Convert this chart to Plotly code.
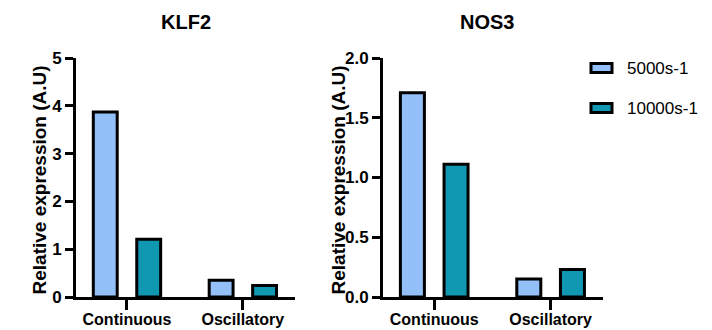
import plotly.graph_objects as go

categories = ["Continuous", "Oscillatory"]
series_names = ["5000s-1", "10000s-1"]
series_colors = ["#93C0F9", "#1097B1"]

klf2_5000 = [3.87, 0.35]
klf2_10000 = [1.21, 0.24]
nos3_5000 = [1.71, 0.15]
nos3_10000 = [1.11, 0.23]

klf2_ticks = [0, 1, 2, 3, 4, 5]
nos3_ticks = [0.0, 0.5, 1.0, 1.5, 2.0]
nos3_ticklabels = ["0.0", "0.5", "1.0", "1.5", "2.0"]

FONT = "Arial, Liberation Sans, sans-serif"
W, H = 712, 330

fig = go.Figure()
for vals, name, color in [(klf2_5000, series_names[0], series_colors[0]),
                          (klf2_10000, series_names[1], series_colors[1])]:
    fig.add_trace(go.Bar(x=categories, y=vals, name=name, marker_color=color,
                         marker_line=dict(color="black", width=3),
                         xaxis="x", yaxis="y", showlegend=False))
for vals, name, color in [(nos3_5000, series_names[0], series_colors[0]),
                          (nos3_10000, series_names[1], series_colors[1])]:
    fig.add_trace(go.Bar(x=categories, y=vals, name=name, marker_color=color,
                         marker_line=dict(color="black", width=3),
                         xaxis="x2", yaxis="y2", showlegend=False))

ydom = [1 - 297 / H, 1 - 58 / H]
xdom1 = [76 / W, 295 / W]
xdom2 = [383 / W, 603 / W]

xcommon = dict(range=[-0.44, 1.45], showline=True, linewidth=3, linecolor="black",
               ticks="outside", ticklen=10, tickwidth=3, tickcolor="black",
               ticklabelstandoff=-4,
               showgrid=False, zeroline=False, fixedrange=True, automargin=False,
               tickfont=dict(family=FONT, size=16, color="black", weight="bold"))
ycommon = dict(showline=True, linewidth=3, linecolor="black",
               ticks="outside", ticklen=8, tickwidth=3, tickcolor="black",
               showgrid=False, zeroline=False, domain=ydom, automargin=False,
               fixedrange=True,
               tickfont=dict(family=FONT, size=17, color="black", weight="bold"))

fig.update_layout(
    width=W, height=H, autosize=False,
    margin=dict(l=0, r=0, t=0, b=0, pad=0, autoexpand=False),
    paper_bgcolor="white", plot_bgcolor="white",
    barmode="group", bargap=0.25, bargroupgap=0.45,
    showlegend=False,
    xaxis=dict(domain=xdom1, anchor="y", **xcommon),
    xaxis2=dict(domain=xdom2, anchor="y2", **xcommon),
    yaxis=dict(range=[0, 5], tickvals=klf2_ticks, anchor="x", **ycommon),
    yaxis2=dict(range=[0, 2], tickvals=nos3_ticks, ticktext=nos3_ticklabels,
                anchor="x2", **ycommon),
)

annots = []
# panel titles
annots.append(dict(text="<b>KLF2</b>", x=(xdom1[0] + xdom1[1]) / 2, y=1 - 22 / H,
                   xref="paper", yref="paper", showarrow=False,
                   xanchor="center", yanchor="middle",
                   font=dict(family=FONT, size=20, color="black")))
annots.append(dict(text="<b>NOS3</b>", x=487 / W, y=1 - 22 / H,
                   xref="paper", yref="paper", showarrow=False,
                   xanchor="center", yanchor="middle",
                   font=dict(family=FONT, size=20, color="black")))
# y axis titles
for xc in [38.5 / W, 337.5 / W]:
    annots.append(dict(text="<b>Relative expression (A.U)</b>", x=xc, y=1 - 180 / H,
                       xref="paper", yref="paper", showarrow=False, textangle=-90,
                       xanchor="center", yanchor="middle",
                       font=dict(family=FONT, size=19, color="black")))

# legend (manual, to get wide rectangle swatches)
shapes = []
leg_y = [68, 108]
for i, (name, color) in enumerate(zip(series_names, series_colors)):
    yc = leg_y[i]
    shapes.append(dict(type="rect", xref="paper", yref="paper",
                       x0=591 / W, x1=612 / W, y0=1 - (yc + 4.5) / H, y1=1 - (yc - 4.5) / H,
                       fillcolor=color, line=dict(color="black", width=3)))
    annots.append(dict(text=name, x=625 / W, y=1 - yc / H, xref="paper", yref="paper",
                       xanchor="left", yanchor="middle", showarrow=False,
                       font=dict(family=FONT, size=17, color="black")))

fig.update_layout(annotations=annots, shapes=shapes)
fig.write_html("out.html", config={"displayModeBar": False},
               post_script="document.body.style.margin='0';document.body.style.padding='0';")
